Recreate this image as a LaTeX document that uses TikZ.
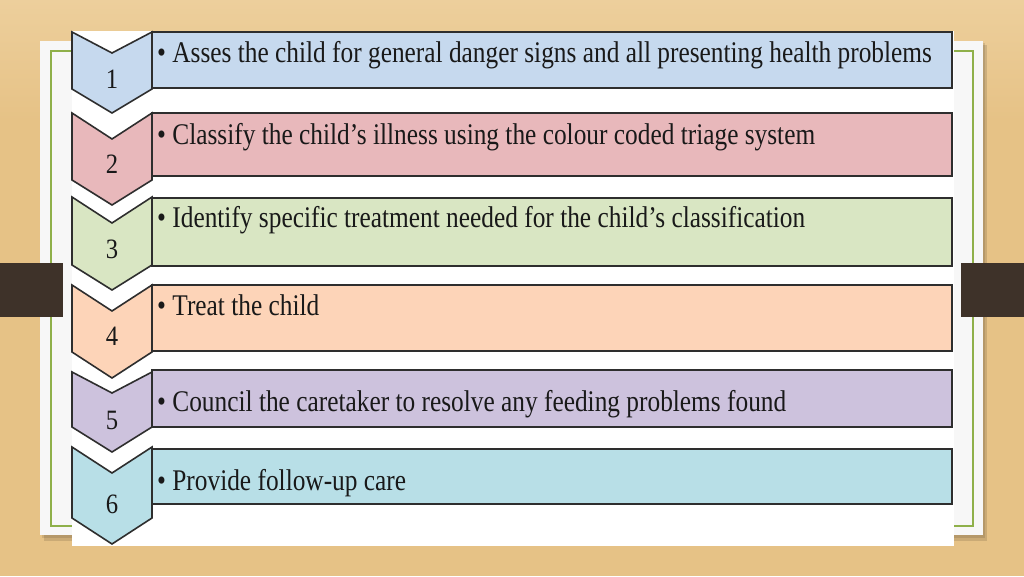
\documentclass[tikz,border=0pt]{standalone}
\usepackage{fontspec}
\setmainfont{Liberation Serif}
\newfontfamily\txtfont[FakeStretch=0.845]{Liberation Serif}
\newfontfamily\numfont[FakeStretch=0.88]{Liberation Serif}
\definecolor{wood}{HTML}{E6C286}
\definecolor{woodlight}{HTML}{EDCF9C}
\definecolor{card}{HTML}{F7F7F7}
\definecolor{frameg}{HTML}{8FB04A}
\definecolor{barc}{HTML}{3E3229}
\definecolor{edge}{HTML}{2E2E2E}
\definecolor{cA}{HTML}{C6D9EE}
\definecolor{cB}{HTML}{E8B8BB}
\definecolor{cC}{HTML}{D9E6C3}
\definecolor{cD}{HTML}{FDD4B8}
\definecolor{cE}{HTML}{CDC2DD}
\definecolor{cF}{HTML}{B8DFE7}
\tikzset{
  chev/.style={draw=edge, line width=1.6pt, line join=miter},
  bar/.style={draw=edge, line width=2pt},
  steptext/.style={anchor=base west, inner sep=0pt, font=\txtfont\fontsize{30}{36}\selectfont, text=black!90},
  stepnum/.style={anchor=base, inner sep=0pt, font=\numfont\fontsize{28}{32}\selectfont, text=black!90},
}
\begin{document}
\begin{tikzpicture}[x=1pt,y=-1pt]
\useasboundingbox (0,0) rectangle (1024,576);
\shade[top color=woodlight, bottom color=wood] (0,0) rectangle (1024,120);
\fill[wood] (0,120) rectangle (1024,576);
% card shadow
\fill[black,opacity=0.12] (44,45) rectangle (987,541);
\fill[black,opacity=0.10] (42,43) rectangle (985,538);
% card
\fill[card] (40,41) rectangle (983,535);
\draw[frameg, line width=1.2pt] (51,51) rectangle (973,526);
% dark bars
\fill[barc] (0,263) rectangle (63,317);
\fill[barc] (961,263) rectangle (1024,317);
% white panel
\fill[white] (72,31) rectangle (954,546);
% steps
\foreach \c/\t/\n/\s/\b/\rt/\rb/\nm/\tb in {
  cA/32/53/89/113/32/88/1/88,
  cB/113/139/180/205/113/176/2/173,
  cC/197/223/265/290/198/266/3/258,
  cD/285/311/352/378/285/351/4/345,
  cE/372/393/427/452/370/427/5/429,
  cF/447/473/518/544/449/504/6/513} {
  \draw[bar, fill=\c] (152,\rt) rectangle (952,\rb);
  \draw[chev, fill=\c] (72,\t) -- (112,\n) -- (152,\t) -- (152,\s) -- (112,\b) -- (72,\s) -- cycle;
  \node[stepnum] (num\nm) at (112,\tb) {\nm};
}
\node[steptext] (t1) at (157,62) {• Asses the child for general danger signs and all presenting health problems};
\node[steptext] (t2) at (157,144) {• Classify the child’s illness using the colour coded triage system};
\node[steptext] (t3) at (157,227) {• Identify specific treatment needed for the child’s classification};
\node[steptext] (t4) at (157,315) {• Treat the child};
\node[steptext] (t5) at (157,411) {• Council the caretaker to resolve any feeding problems found};
\node[steptext] (t6) at (157,490) {• Provide follow-up care};
\end{tikzpicture}
\end{document}
